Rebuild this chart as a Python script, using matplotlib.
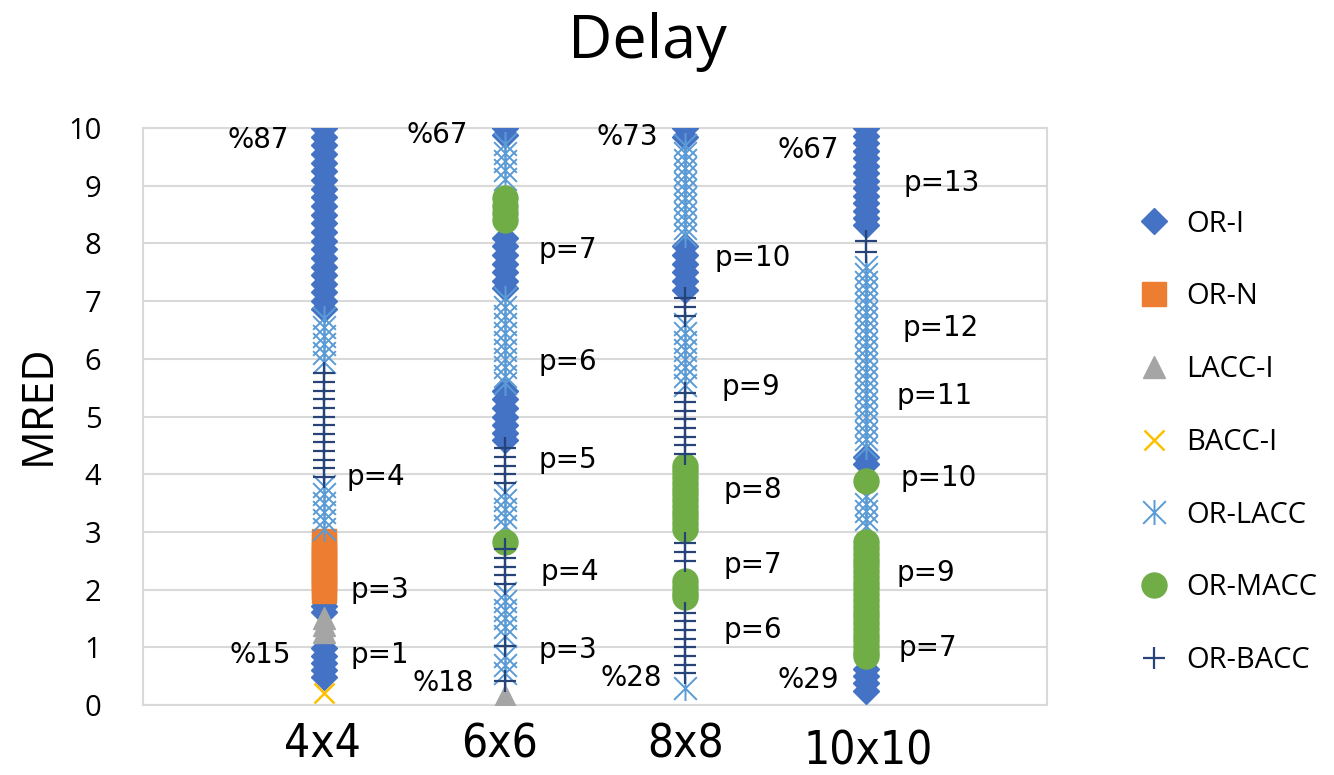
import matplotlib

matplotlib.use("Agg")
import matplotlib.pyplot as plt
from matplotlib.lines import Line2D
from matplotlib.path import Path

# Column positions and labels
col_x = [1, 2, 3, 4]
col_labels = ["4x4", "6x6", "8x8", "10x10"]

# MRED values of each series, one list per column (4x4, 6x6, 8x8, 10x10)
or_i = [
    [10.0, 9.85, 9.7, 9.55, 9.4, 9.25, 9.1, 8.95, 8.8, 8.65, 8.5, 8.35, 8.2, 8.05, 7.9,
     7.75, 7.6, 7.45, 7.3, 7.15, 7.0, 6.87, 1.72, 1.62, 0.98, 0.85, 0.72, 0.6, 0.48],
    [10.0, 9.88, 8.1, 7.95, 7.8, 7.65, 7.5, 7.35, 7.22, 5.45, 5.3, 5.15, 5.0, 4.85, 4.72, 4.6],
    [10.0, 9.85, 7.95, 7.8, 7.65, 7.5, 7.35, 7.2],
    [10.0, 9.87, 9.74, 9.61, 9.48, 9.35, 9.22, 9.09, 8.96, 8.83, 8.7, 8.57, 8.44, 8.32,
     4.3, 4.18, 0.62, 0.5, 0.38, 0.25],
]
or_n = [
    [2.85, 2.75, 2.65, 2.55, 2.45, 2.35, 2.25, 2.15, 2.05, 1.98],
    [], [], [],
]
lacc_i = [
    [1.5, 1.38, 1.26],
    [0.15],
    [], [],
]
bacc_i = [
    [0.2],
    [], [], [],
]
or_lacc = [
    [6.7, 6.55, 6.4, 6.25, 6.1, 5.95, 3.8, 3.65, 3.5, 3.35, 3.2, 3.05],
    [9.72, 9.57, 9.42, 9.27, 9.12, 7.05, 6.9, 6.75, 6.6, 6.45, 6.3, 6.15, 6.0, 5.85, 5.7,
     5.58, 3.7, 3.55, 3.4, 3.25, 3.1, 1.95, 1.8, 1.65, 1.5, 1.35, 1.2, 0.85, 0.7, 0.55],
    [9.7, 9.57, 9.44, 9.31, 9.18, 9.05, 8.92, 8.79, 8.66, 8.53, 8.4, 8.27, 8.14, 6.6, 6.45,
     6.3, 6.15, 6.0, 5.85, 5.7, 5.55, 0.3],
    [7.6, 7.47, 7.34, 7.21, 7.08, 6.95, 6.82, 6.69, 6.56, 6.43, 6.3, 6.17, 6.04, 5.91, 5.78,
     5.65, 5.52, 5.39, 5.26, 5.13, 5.0, 4.87, 4.74, 4.61, 4.48, 3.62, 3.49, 3.36, 3.23, 3.1],
]
or_macc = [
    [],
    [8.78, 8.65, 8.52, 8.4, 2.82],
    [4.15, 4.05, 3.95, 3.85, 3.75, 3.65, 3.55, 3.45, 3.35, 3.25, 3.15, 3.05, 2.15, 2.05, 1.95, 1.87],
    [3.88, 2.82, 2.72, 2.62, 2.52, 2.42, 2.32, 2.22, 2.12, 2.02, 1.92, 1.82, 1.72, 1.62,
     1.52, 1.42, 1.32, 1.22, 1.12, 1.02, 0.92, 0.85],
]
or_bacc = [
    [5.75, 5.6, 5.45, 5.3, 5.15, 5.0, 4.85, 4.7, 4.55, 4.4, 4.25, 4.1, 3.95],
    [4.45, 4.3, 4.15, 4.0, 3.85, 2.7, 2.55, 2.4, 2.25, 2.1, 1.02, 0.42],
    [7.05, 6.9, 6.75, 5.4, 5.25, 5.1, 4.95, 4.8, 4.65, 4.5, 4.35, 2.8, 2.65, 2.5, 1.6, 1.45,
     1.3, 1.15, 1.0, 0.85, 0.7, 0.55],
    [8.05, 7.85],
]

# Annotations: (text, x, y) in data units
notes = [
    ("%87", 0.64, 9.79), ("%15", 0.65, 0.87), ("p=4", 1.29, 3.95), ("p=3", 1.31, 1.99),
    ("p=1", 1.31, 0.87),
    ("%67", 1.63, 9.88), ("p=7", 2.35, 7.89), ("p=6", 2.35, 5.94), ("p=5", 2.35, 4.25),
    ("p=4", 2.36, 2.30), ("p=3", 2.35, 0.95), ("%18", 1.66, 0.38),
    ("%73", 2.68, 9.84), ("p=10", 3.37, 7.75), ("p=9", 3.36, 5.51), ("p=8", 3.37, 3.73),
    ("p=7", 3.37, 2.43), ("p=6", 3.37, 1.30), ("%28", 2.70, 0.47),
    ("%67", 3.68, 9.62), ("p=13", 4.42, 9.05), ("p=12", 4.41, 6.53), ("p=11", 4.38, 5.36),
    ("p=10", 4.40, 3.93), ("p=9", 4.33, 2.29), ("p=7", 4.34, 0.99), ("%29", 3.68, 0.43),
]

# asterisk marker used by Excel for OR-LACC
star = Path(
    [(-1, -1), (1, 1), (-1, 1), (1, -1), (0, -1.1), (0, 1.1)],
    [Path.MOVETO, Path.LINETO, Path.MOVETO, Path.LINETO, Path.MOVETO, Path.LINETO],
)

series = [
    ("OR-I", or_i, dict(marker="D", ms=13, color="#4472C4")),
    ("OR-N", or_n, dict(marker="s", ms=17, color="#ED7D31")),
    ("LACC-I", lacc_i, dict(marker="^", ms=16, color="#A5A5A5")),
    ("BACC-I", bacc_i, dict(marker="x", ms=15, mew=1.8, color="#FFC000")),
    ("OR-LACC", or_lacc, dict(marker=star, ms=18, mew=1.4, color="#5B9BD5")),
    ("OR-MACC", or_macc, dict(marker="o", ms=18, color="#70AD47")),
    ("OR-BACC", or_bacc, dict(marker="+", ms=16, mew=1.6, color="#264478")),
]

fig = plt.figure(figsize=(13.34, 7.75), dpi=100)
ax = fig.add_axes([0.1072, 0.0903, 0.6777, 0.7445])

handles = []
for z, (name, cols, style) in enumerate(series):
    for x, vals in zip(col_x, cols):
        if vals:
            ax.plot([x] * len(vals), vals, linestyle="none", zorder=3 + z, **style)
    handles.append(Line2D([], [], linestyle="none", label=name, **style))

for txt, x, y in notes:
    ax.text(x, y, txt, ha="center", va="center", fontsize=20, family="DejaVu Sans", zorder=20)

ax.set_xlim(0, 5)
ax.set_ylim(0, 10)
ax.set_yticks(range(0, 11))
ax.set_xticks([])
ax.tick_params(axis="y", length=0, pad=30, labelsize=21)
for lbl in ax.get_yticklabels():
    lbl.set_family("Open Sans")
ax.grid(True, axis="y", color="#D9D9D9", lw=1.5)
ax.set_axisbelow(True)
for sp in ax.spines.values():
    sp.set_color("#D9D9D9")
    sp.set_linewidth(1.5)

# category labels under the columns
lab_x = [0.99, 1.97, 3.0, 4.01]
lab_y = [-0.069, -0.069, -0.069, -0.082]
for x, y, txt in zip(lab_x, lab_y, col_labels):
    ax.text(x, y, txt, transform=ax.get_xaxis_transform(), ha="center", va="center",
            fontsize=33, family="DejaVu Sans", fontstretch="condensed")

fig.text(647 / 1334, 1 - 42 / 775, "Delay", ha="center", va="center", fontsize=44, family="Open Sans")
fig.text(38 / 1334, 1 - 405 / 775, "MRED", ha="center", va="center", rotation=90, fontsize=31,
         family="Open Sans")

fig.legend(handles=handles, loc="upper left", bbox_to_anchor=(1128 / 1334, 1 - 198 / 775),
           frameon=False, prop={"family": "Open Sans", "size": 21}, labelspacing=1.5,
           handlelength=1.0, handletextpad=0.6, borderaxespad=0)

fig.savefig("out.png", dpi=100)
